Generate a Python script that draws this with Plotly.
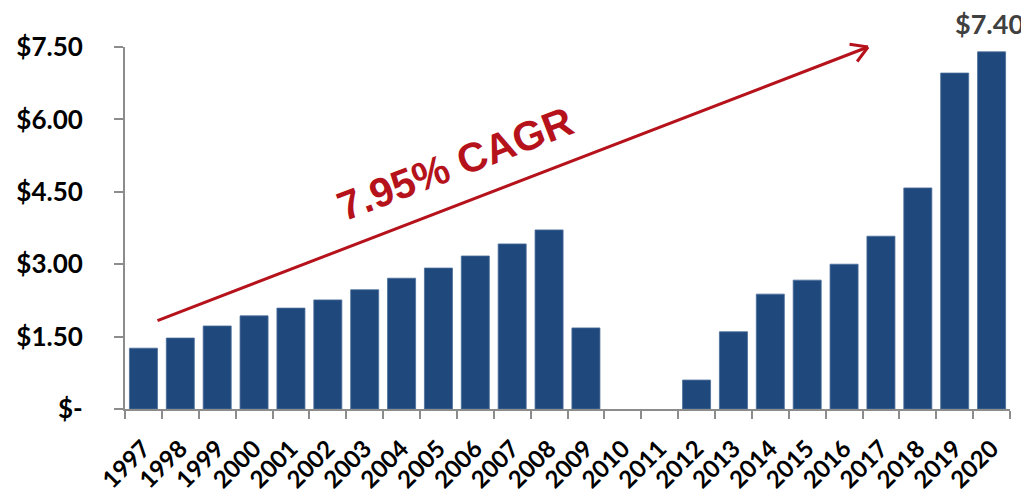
import plotly.graph_objects as go

years = [str(y) for y in range(1997, 2021)]
values = [1.26, 1.47, 1.72, 1.93, 2.09, 2.26, 2.47, 2.71, 2.92, 3.17, 3.42, 3.71,
          1.68, 0, 0, 0.60, 1.60, 2.38, 2.67, 3.00, 3.58, 4.58, 6.96, 7.40]
ytick_vals = [0, 1.5, 3.0, 4.5, 6.0, 7.5]
ytick_text = ["$-", "$1.50", "$3.00", "$4.50", "$6.00", "$7.50"]
last_label = "$7.40"
cagr_text = "7.95% CAGR"

BAR = "#1F497D"
RED = "#B5121B"
FONT = "Lato"

# page body has an 8px default margin; compensate so the chart sits like the reference
fig = go.Figure()
fig.add_trace(go.Bar(
    x=years, y=values,
    marker=dict(color=BAR,
                line=dict(color="#4A6D99", width=[0.8 if v > 0 else 0 for v in values])),
    hoverinfo="x+y",
))

fig.update_layout(
    width=1021, height=486,
    margin=dict(l=117, r=19, t=39, b=85, pad=0),
    plot_bgcolor="white", paper_bgcolor="white",
    bargap=0.24,
    showlegend=False,
    font=dict(family=FONT, color="black"),
)
fig.update_xaxes(
    type="category",
    range=[-0.5, len(years) - 0.5], autorange=False, automargin=False,
    tickangle=-45,
    tickfont=dict(family=FONT, size=24, color="black", weight="bold"),
    showline=True, linecolor="#8C8C8C", linewidth=2,
    ticks="outside", tickson="boundaries", ticklen=8, tickcolor="#8C8C8C", tickwidth=2,
    ticklabelstandoff=14,
    showgrid=False,
)
fig.update_yaxes(
    range=[0, 7.5], autorange=False, automargin=False,
    tickvals=ytick_vals, ticktext=ytick_text,
    tickfont=dict(family=FONT, size=26, color="black", weight="bold"),
    showline=True, linecolor="#8C8C8C", linewidth=2,
    ticks="outside", ticklen=9, tickcolor="#8C8C8C", tickwidth=2,
    ticklabelstandoff=26,
    showgrid=False, zeroline=False,
)

# Value label above last bar
fig.add_annotation(
    x=len(years) - 1, y=values[-1], text=last_label, showarrow=False,
    yanchor="bottom", yshift=10, xshift=-2,
    font=dict(family=FONT, size=27, color="#404040", weight="bold"),
)

# CAGR arrow (shaft + open chevron head)
tip_x, tip_y = 19.65, 7.5
fig.add_annotation(
    x=tip_x, y=tip_y, ax=0.34, ay=1.82,
    xref="x", yref="y", axref="x", ayref="y",
    text="", showarrow=True, arrowhead=0, arrowwidth=3, arrowcolor=RED,
)
for dx, dy in [(-20, -3), (-12, 16)]:
    fig.add_annotation(
        x=tip_x, y=tip_y, ax=dx, ay=dy, xref="x", yref="y",
        text="", showarrow=True, arrowhead=0, arrowwidth=3, arrowcolor=RED,
    )
fig.add_annotation(
    x=8.45, y=5.08, xref="x", yref="y",
    text=cagr_text, showarrow=False, textangle=-21,
    font=dict(family="Liberation Sans", size=41, color=RED, weight="bold"),
)

fig.write_html("out.html")
